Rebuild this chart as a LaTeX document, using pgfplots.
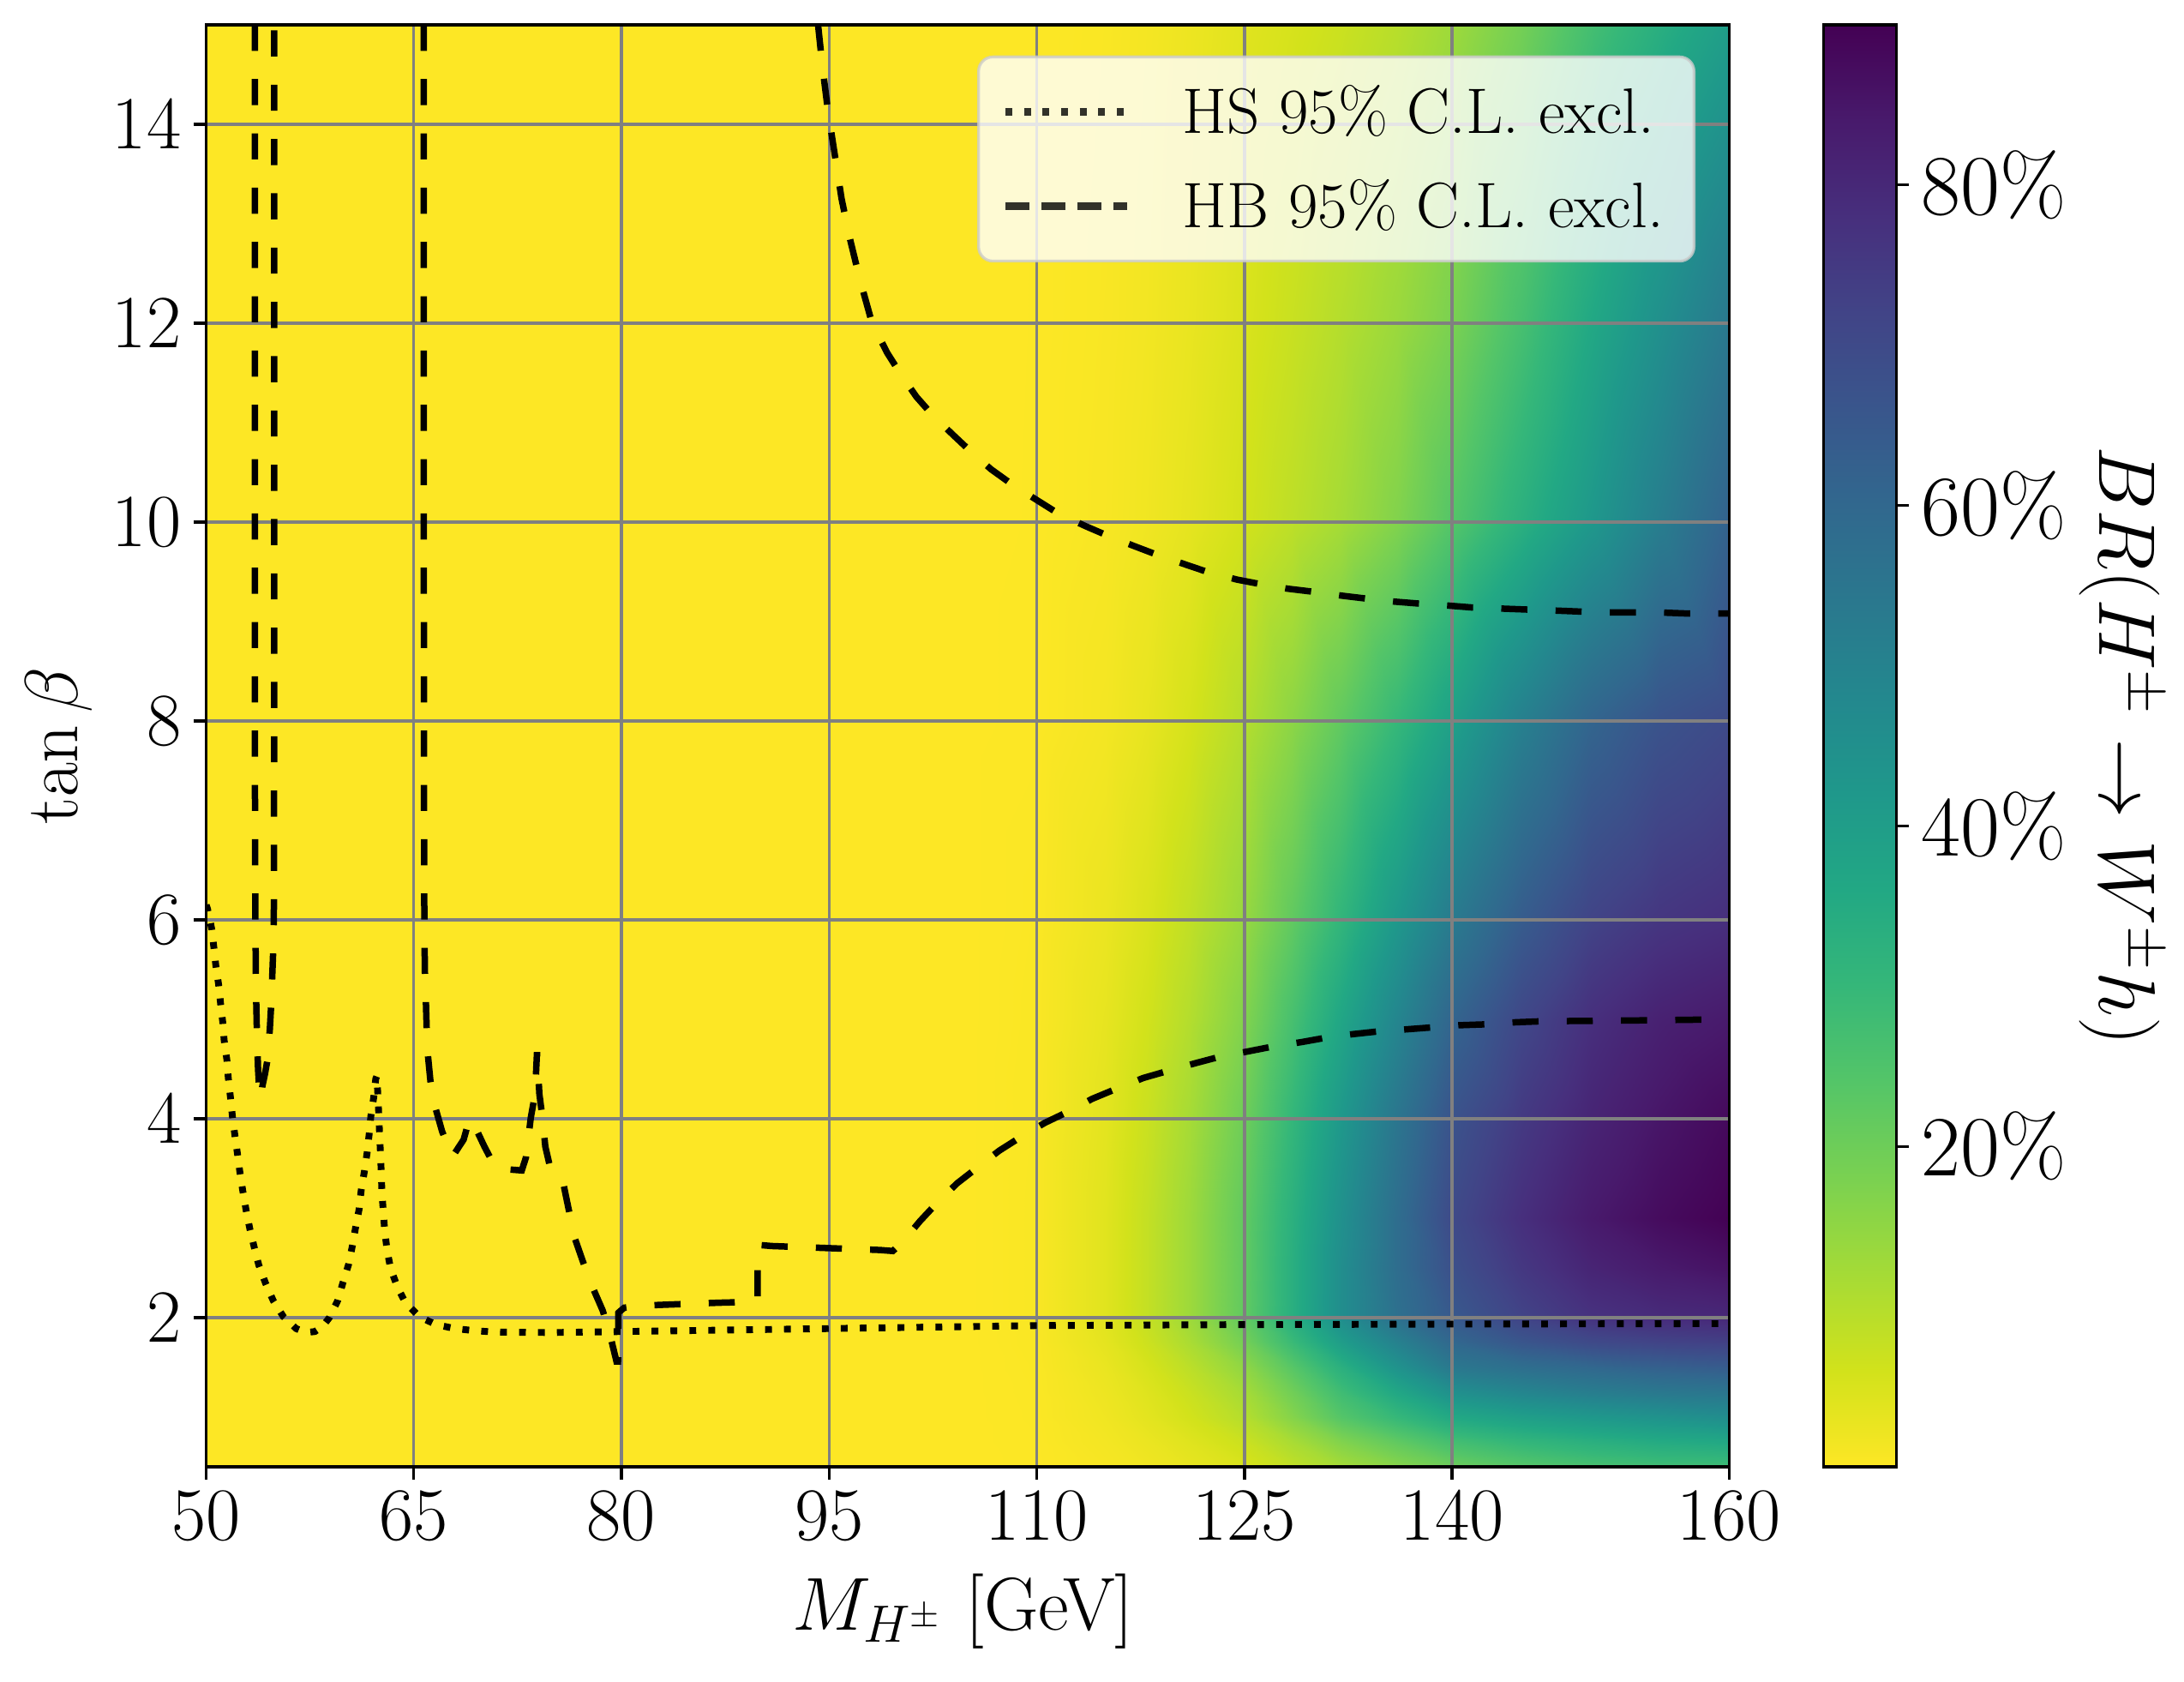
\RequirePackage{fix-cm}
\documentclass[border=0pt]{standalone}
\usepackage{pgfplots}
\pgfplotsset{compat=1.18}
\definecolor{gridgray}{RGB}{128,128,128}
\definecolor{legedge}{RGB}{204,204,204}
\pgfplotsset{
  colormap={viridisr}{
    rgb255=(253,231,37) rgb255=(210,226,27) rgb255=(165,219,54) rgb255=(122,209,81)
    rgb255=(84,197,104) rgb255=(53,183,121) rgb255=(34,168,132) rgb255=(31,152,139)
    rgb255=(35,136,142) rgb255=(42,120,142) rgb255=(49,104,142) rgb255=(57,86,140)
    rgb255=(65,68,135) rgb255=(71,47,125) rgb255=(72,26,108) rgb255=(68,1,84)
  }
}
\newcommand{\tickfont}{\fontsize{21}{25}\selectfont}
\newcommand{\labfont}{\fontsize{21}{25}\selectfont}
\newcommand{\cbfont}{\fontsize{24}{28}\selectfont}
\newcommand{\cblabfont}{\fontsize{22.5}{27}\selectfont}
\newcommand{\legfont}{\fontsize{18}{21}\selectfont}
\begin{document}
\begin{tikzpicture}
% ---------- background: BR surface ----------
\begin{axis}[
  at={(0,0)}, anchor=south west,
  scale only axis, width=426.4pt, height=403.7pt,
  xmin=50, xmax=160, ymin=0.5, ymax=15,
  xtick=\empty, ytick=\empty,
  axis line style={line width=0.8pt},
  colormap name=viridisr,
  point meta min=0, point meta max=0.9,
]
\addplot[surf, shader=interp, mesh/cols=16, mesh/ordering=x varies, point meta=explicit]
table[row sep=\\, x index=0, y index=1, meta index=2] {
50 0.5 0 \\ 100 0.5 0 \\ 105 0.5 0 \\ 110 0.5 0.0014 \\ 115 0.5 0.009 \\ 118 0.5 0.018 \\ 121 0.5 0.03 \\ 125 0.5 0.05 \\ 128.5 0.5 0.083 \\ 132 0.5 0.12 \\ 136 0.5 0.16 \\ 140 0.5 0.20 \\ 145 0.5 0.235 \\ 150 0.5 0.26 \\ 155 0.5 0.275 \\ 160 0.5 0.28 \\
50 0.75 0 \\ 100 0.75 0 \\ 105 0.75 0 \\ 110 0.75 0.0019 \\ 115 0.75 0.013 \\ 118 0.75 0.025 \\ 121 0.75 0.041 \\ 125 0.75 0.07 \\ 128.5 0.75 0.115 \\ 132 0.75 0.17 \\ 136 0.75 0.22 \\ 140 0.75 0.27 \\ 145 0.75 0.305 \\ 150 0.75 0.33 \\ 155 0.75 0.35 \\ 160 0.75 0.36 \\
50 1 0 \\ 100 1 0 \\ 105 1 0 \\ 110 1 0.0027 \\ 115 1 0.018 \\ 118 1 0.036 \\ 121 1 0.059 \\ 125 1 0.10 \\ 128.5 1 0.165 \\ 132 1 0.24 \\ 136 1 0.30 \\ 140 1 0.36 \\ 145 1 0.395 \\ 150 1 0.42 \\ 155 1 0.44 \\ 160 1 0.46 \\
50 1.25 0 \\ 100 1.25 0 \\ 105 1.25 0 \\ 110 1.25 0.0032 \\ 115 1.25 0.022 \\ 118 1.25 0.043 \\ 121 1.25 0.071 \\ 125 1.25 0.12 \\ 128.5 1.25 0.195 \\ 132 1.25 0.28 \\ 136 1.25 0.365 \\ 140 1.25 0.45 \\ 145 1.25 0.49 \\ 150 1.25 0.52 \\ 155 1.25 0.54 \\ 160 1.25 0.55 \\
50 1.5 0 \\ 100 1.5 0 \\ 105 1.5 0 \\ 110 1.5 0.004 \\ 115 1.5 0.027 \\ 118 1.5 0.054 \\ 121 1.5 0.089 \\ 125 1.5 0.15 \\ 128.5 1.5 0.235 \\ 132 1.5 0.33 \\ 136 1.5 0.44 \\ 140 1.5 0.54 \\ 145 1.5 0.575 \\ 150 1.5 0.60 \\ 155 1.5 0.625 \\ 160 1.5 0.64 \\
50 1.75 0 \\ 100 1.75 0 \\ 105 1.75 0 \\ 110 1.75 0.005 \\ 115 1.75 0.034 \\ 118 1.75 0.068 \\ 121 1.75 0.112 \\ 125 1.75 0.19 \\ 128.5 1.75 0.29 \\ 132 1.75 0.40 \\ 136 1.75 0.505 \\ 140 1.75 0.60 \\ 145 1.75 0.66 \\ 150 1.75 0.70 \\ 155 1.75 0.72 \\ 160 1.75 0.73 \\
50 2 0 \\ 100 2 0 \\ 105 2 0 \\ 110 2 0.006 \\ 115 2 0.04 \\ 118 2 0.08 \\ 121 2 0.13 \\ 125 2 0.22 \\ 128.5 2 0.335 \\ 132 2 0.46 \\ 136 2 0.57 \\ 140 2 0.65 \\ 145 2 0.72 \\ 150 2 0.77 \\ 155 2 0.79 \\ 160 2 0.80 \\
50 2.5 0 \\ 100 2.5 0 \\ 105 2.5 0 \\ 110 2.5 0.006 \\ 115 2.5 0.04 \\ 118 2.5 0.08 \\ 121 2.5 0.13 \\ 125 2.5 0.22 \\ 128.5 2.5 0.335 \\ 132 2.5 0.46 \\ 136 2.5 0.58 \\ 140 2.5 0.68 \\ 145 2.5 0.755 \\ 150 2.5 0.81 \\ 155 2.5 0.84 \\ 160 2.5 0.86 \\
50 3 0 \\ 100 3 0 \\ 105 3 0 \\ 110 3 0.006 \\ 115 3 0.04 \\ 118 3 0.08 \\ 121 3 0.13 \\ 125 3 0.22 \\ 128.5 3 0.33 \\ 132 3 0.45 \\ 136 3 0.58 \\ 140 3 0.70 \\ 145 3 0.78 \\ 150 3 0.84 \\ 155 3 0.875 \\ 160 3 0.90 \\
50 4 0 \\ 100 4 0 \\ 105 4 0 \\ 110 4 0.0054 \\ 115 4 0.036 \\ 118 4 0.072 \\ 121 4 0.118 \\ 125 4 0.20 \\ 128.5 4 0.305 \\ 132 4 0.42 \\ 136 4 0.55 \\ 140 4 0.67 \\ 145 4 0.75 \\ 150 4 0.81 \\ 155 4 0.85 \\ 160 4 0.88 \\
50 5 0 \\ 100 5 0 \\ 105 5 0 \\ 110 5 0.0046 \\ 115 5 0.031 \\ 118 5 0.061 \\ 121 5 0.10 \\ 125 5 0.17 \\ 128.5 5 0.265 \\ 132 5 0.37 \\ 136 5 0.49 \\ 140 5 0.61 \\ 145 5 0.71 \\ 150 5 0.78 \\ 155 5 0.82 \\ 160 5 0.84 \\
50 6 0 \\ 100 6 0 \\ 105 6 0 \\ 110 6 0.0038 \\ 115 6 0.025 \\ 118 6 0.05 \\ 121 6 0.083 \\ 125 6 0.14 \\ 128.5 6 0.22 \\ 132 6 0.31 \\ 136 6 0.42 \\ 140 6 0.53 \\ 145 6 0.64 \\ 150 6 0.72 \\ 155 6 0.76 \\ 160 6 0.78 \\
50 8 0 \\ 100 8 0 \\ 105 8 0 \\ 110 8 0.0016 \\ 115 8 0.013 \\ 118 8 0.03 \\ 121 8 0.055 \\ 125 8 0.10 \\ 128.5 8 0.155 \\ 132 8 0.22 \\ 136 8 0.30 \\ 140 8 0.39 \\ 145 8 0.51 \\ 150 8 0.61 \\ 155 8 0.67 \\ 160 8 0.70 \\
50 10 0 \\ 100 10 0 \\ 105 10 0 \\ 110 10 0.0009 \\ 115 10 0.0078 \\ 118 10 0.018 \\ 121 10 0.033 \\ 125 10 0.06 \\ 128.5 10 0.088 \\ 132 10 0.12 \\ 136 10 0.17 \\ 140 10 0.24 \\ 145 10 0.33 \\ 150 10 0.42 \\ 155 10 0.52 \\ 160 10 0.62 \\
50 12 0 \\ 100 12 0 \\ 105 12 0 \\ 110 12 0.0008 \\ 115 12 0.0065 \\ 118 12 0.015 \\ 121 12 0.0275 \\ 125 12 0.05 \\ 128.5 12 0.073 \\ 132 12 0.10 \\ 136 12 0.135 \\ 140 12 0.18 \\ 145 12 0.265 \\ 150 12 0.36 \\ 155 12 0.45 \\ 160 12 0.54 \\
50 15 0 \\ 100 15 0 \\ 105 15 0 \\ 110 15 0.0006 \\ 115 15 0.005 \\ 118 15 0.012 \\ 121 15 0.022 \\ 125 15 0.04 \\ 128.5 15 0.054 \\ 132 15 0.07 \\ 136 15 0.095 \\ 140 15 0.13 \\ 145 15 0.19 \\ 150 15 0.27 \\ 155 15 0.335 \\ 160 15 0.40 \\
};
\end{axis}
% ---------- colour bar ----------
\begin{axis}[
  at={(452.8pt,0)}, anchor=south west,
  scale only axis, width=20.4pt, height=403.7pt,
  xmin=0, xmax=1, ymin=0, ymax=0.9,
  axis on top,
  colormap name=viridisr,
  point meta min=0, point meta max=0.9,
  xtick=\empty,
  ytick={0.2,0.4,0.6,0.8}, yticklabels={20\%,40\%,60\%,80\%},
  ytick pos=right, yticklabel pos=right,
  tick align=outside, major tick length=3.5pt,
  tick style={black, line width=0.8pt},
  axis line style={line width=0.8pt},
  yticklabel style={font=\cbfont},
  ylabel={$BR(H^\pm\to W^\pm h)$},
  ylabel style={font=\cblabfont, rotate=180, at={(axis description cs:4.08,0.5)}, anchor=center},
]
\addplot[surf, shader=interp, mesh/cols=2, mesh/ordering=x varies, point meta=explicit]
table[row sep=\\, x index=0, y index=1, meta index=2] {
0 0 0 \\ 1 0 0 \\ 0 0.1 0.1 \\ 1 0.1 0.1 \\ 0 0.2 0.2 \\ 1 0.2 0.2 \\ 0 0.3 0.3 \\ 1 0.3 0.3 \\ 0 0.4 0.4 \\ 1 0.4 0.4 \\
0 0.5 0.5 \\ 1 0.5 0.5 \\ 0 0.6 0.6 \\ 1 0.6 0.6 \\ 0 0.7 0.7 \\ 1 0.7 0.7 \\ 0 0.8 0.8 \\ 1 0.8 0.8 \\ 0 0.9 0.9 \\ 1 0.9 0.9 \\
};
\end{axis}
% ---------- foreground: grid, curves, legend ----------
\begin{axis}[
  at={(0,0)}, anchor=south west,
  scale only axis, width=426.4pt, height=403.7pt,
  xmin=50, xmax=160, ymin=0.5, ymax=15,
  xtick={50,65,80,95,110,125,140,160},
  ytick={2,4,6,8,10,12,14},
  grid=major, grid style={gridgray, line width=0.8pt},
  axis line style={line width=0.8pt},
  tick style={black, line width=0.8pt},
  tick align=outside, major tick length=3.5pt,
  tick pos=left,
  ticklabel style={font=\tickfont},
  xlabel={$M_{H^\pm}$ [GeV]}, ylabel={$\tan\beta$},
  label style={font=\labfont},
  xlabel style={at={(axis description cs:0.497,-0.1005)}, anchor=center},
  ylabel style={at={(axis description cs:-0.0965,0.5)}, anchor=center},
  legend image code/.code={\draw[#1] (0pt,0pt) -- (34pt,0pt);},
  legend cell align=left,
  legend style={
    at={(axis description cs:1,1)}, anchor=north east, xshift=-9.4pt, yshift=-8.6pt,
    draw=legedge, line width=0.8pt, rounded corners=4pt,
    fill=white, fill opacity=0.8, draw opacity=0.8, text opacity=1,
    font=\legfont,
    inner xsep=6.5pt, inner ysep=5.9pt,
    row sep=7.4pt, column sep=12.6pt,
    nodes={inner sep=2pt, text depth=0.15em},
  },
]
\addplot[forget plot, black, line width=1.9pt, dash pattern=on 1.9pt off 3.4pt] coordinates {
(50,6.15) (50.1,6.11) (50.4,5.91) (50.56,5.72) (50.7,5.54) (50.9,5.35) (51.05,5.15) (51.2,4.97) (51.3,4.79) (51.5,4.59) (51.6,4.41) (51.76,4.21) (51.9,4.02) (52.07,3.84) (52.27,3.64) (52.44,3.46) (52.64,3.28) (52.9,3.07) (53.16,2.89) (53.47,2.71) (53.8,2.53) (54.28,2.35) (54.85,2.17) (55.58,2.01) (56.5,1.89) (57.2,1.85) (57.85,1.86) (58.4,1.91) (58.9,2.0) (59.5,2.17) (59.9,2.36) (60.3,2.54) (60.56,2.72) (60.8,2.91) (61.05,3.09) (61.2,3.28) (61.43,3.47) (61.63,3.66) (61.78,3.85) (61.9,4.03) (62.1,4.21) (62.25,4.4) (62.33,4.43) (62.4,4.25) (62.48,4.01) (62.54,3.81) (62.6,3.63) (62.65,3.45) (62.7,3.25) (62.8,3.06) (62.9,2.87) (63.08,2.67) (63.33,2.49) (63.84,2.30) (64.4,2.15) (65.4,2.01) (66.6,1.93) (67.97,1.89) (69.3,1.87) (70.8,1.855) (75,1.85) (80,1.86) (90,1.88) (100,1.9) (110,1.92) (125,1.93) (140,1.935) (160,1.94)
};
\addplot[forget plot, black, line width=1.8pt, dash pattern=on 7.3pt off 7.9pt] coordinates {
(53.52,15) (53.52,10) (53.53,7) (53.55,6.1) (53.6,5.3) (53.66,4.9) (53.75,4.5) (53.86,4.23) (53.95,4.2) (54.05,4.32) (54.25,4.45) (54.44,4.6) (54.6,4.9) (54.7,5.15) (54.78,5.45) (54.86,5.75) (54.9,6.2) (54.91,8) (54.92,15)
};
\addplot[forget plot, black, line width=1.8pt, dash pattern=on 7.3pt off 7.9pt] coordinates {
(65.72,15) (65.72,10) (65.74,7) (65.76,6.0) (65.8,5.48) (65.87,5.2) (65.97,4.71) (66.2,4.38) (66.5,4.14) (67.05,3.87) (67.8,3.62) (68.6,3.79) (69.0,3.99) (69.15,4.0) (70.1,3.72) (70.93,3.5) (72.8,3.48) (73.1,3.61) (73.45,4.01) (73.76,4.25) (73.9,4.67) (74.07,4.25) (74.3,4.0) (74.5,3.72) (74.9,3.48) (75.3,3.42) (75.8,3.35) (76.2,3.08) (76.6,2.81) (77.2,2.57) (77.9,2.31) (78.65,2.07) (79.24,1.79) (79.64,1.56) (79.75,1.56) (79.78,2.05) (80.2,2.1) (81.3,2.12) (83.15,2.13) (87.06,2.15) (89.83,2.16) (89.85,2.72) (90.0,2.73) (90.85,2.72) (94.76,2.70) (98.67,2.68) (99.6,2.67) (100.3,2.76) (101.56,2.97) (102.9,3.17) (104.24,3.35) (105.9,3.53) (107.3,3.68) (109.0,3.83) (110.6,3.96) (112.4,4.08) (114.0,4.2) (115.9,4.31) (117.7,4.41) (119.7,4.49) (121.5,4.56) (123.4,4.63) (125.0,4.67) (127.2,4.73) (129.1,4.77) (131.1,4.82) (132.8,4.85) (134.8,4.88) (136.8,4.90) (138.7,4.92) (140.5,4.94) (142.6,4.95) (144.6,4.97) (146.5,4.98) (150.5,4.985) (154.4,4.99) (160,5.0)
};
\addplot[forget plot, black, line width=1.8pt, dash pattern=on 7.3pt off 7.9pt] coordinates {
(94.2,15) (94.5,14.6) (94.9,14.15) (95.4,13.7) (95.9,13.25) (96.5,12.85) (97.2,12.45) (98.1,12.0) (99.2,11.7) (100.2,11.48) (101.3,11.26) (102.5,11.07) (104,10.87) (105.3,10.7) (106.7,10.53) (108.3,10.37) (109.9,10.23) (111.5,10.09) (113.5,9.96) (115,9.87) (117,9.76) (118.7,9.67) (120.8,9.57) (122.5,9.49) (124.5,9.42) (126,9.38) (128.1,9.33) (129.9,9.30) (132.0,9.26) (133.8,9.23) (135.8,9.20) (137.6,9.18) (139.7,9.16) (141.5,9.14) (143.5,9.13) (145.4,9.12) (147.4,9.11) (149.2,9.10) (151.3,9.09) (155.1,9.09) (157.0,9.08) (160,9.08)
};
\addlegendimage{black, line width=2pt, dash pattern=on 1.9pt off 3.3pt}
\addlegendentry{HS 95\% C.L. excl.}
\addlegendimage{black, line width=2pt, dash pattern=on 6.8pt off 3.3pt}
\addlegendentry{HB 95\% C.L. excl.}
\end{axis}
\pgfresetboundingbox
\path[use as bounding box] (-57.72pt,-60.24pt) rectangle (553.8pt,410.64pt);
\end{tikzpicture}
\end{document}
